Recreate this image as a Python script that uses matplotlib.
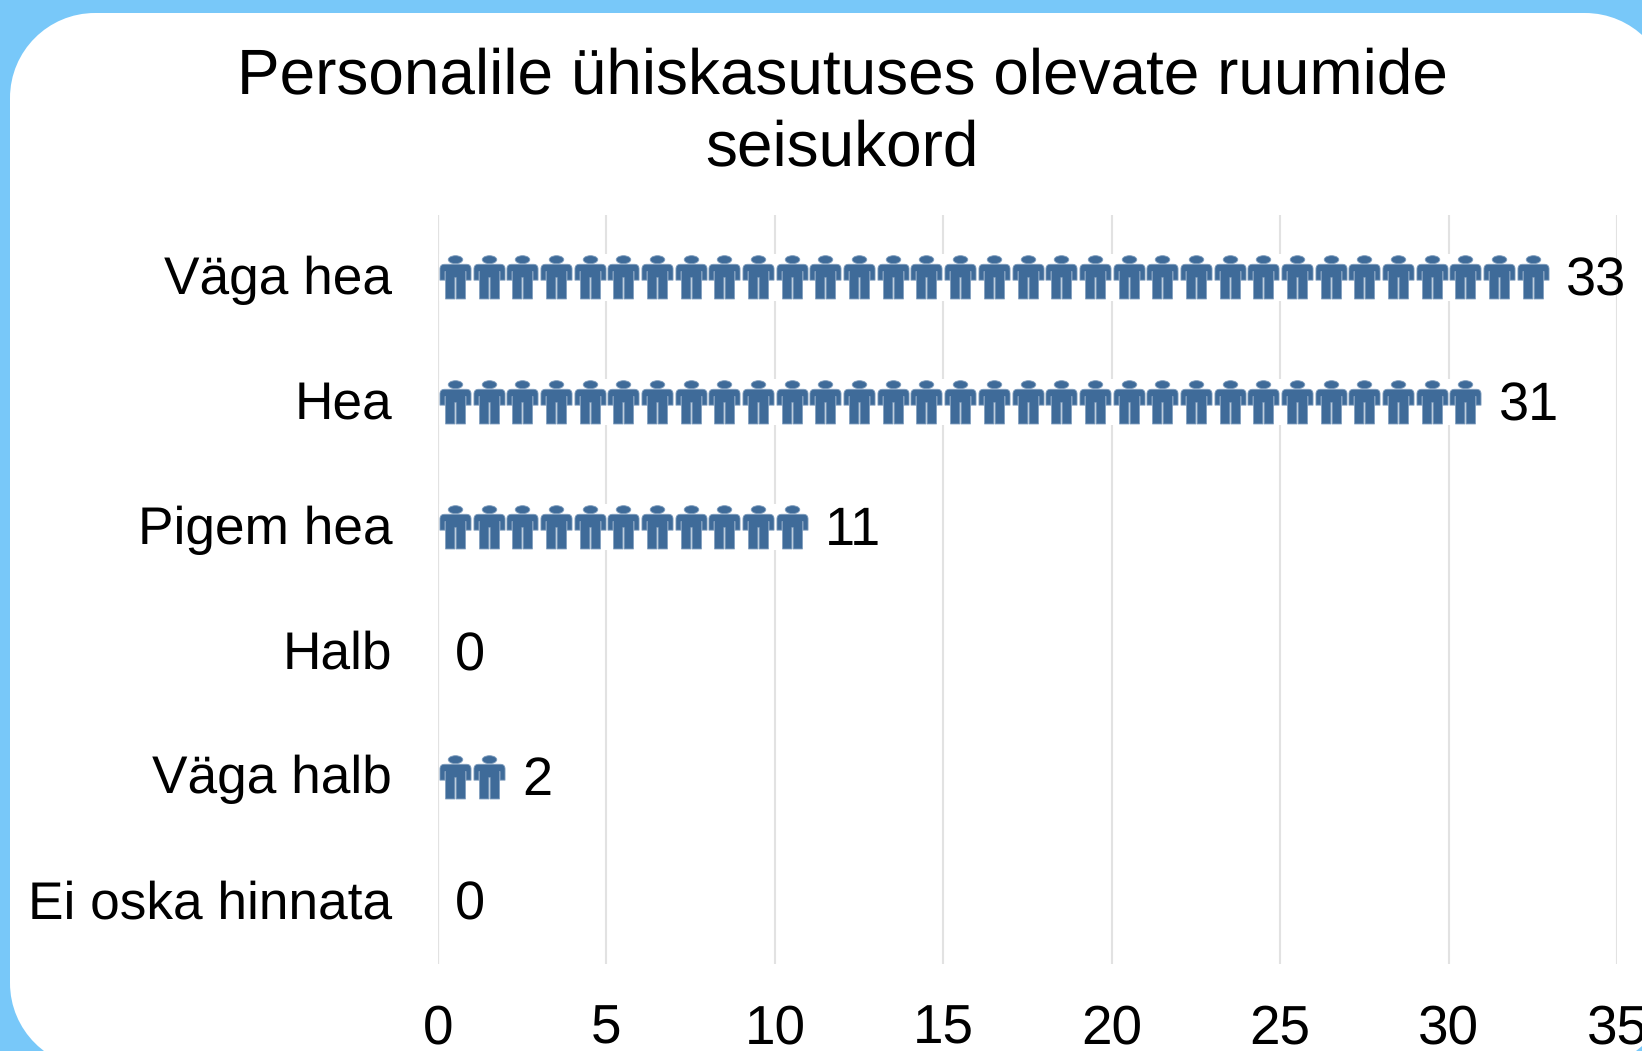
import matplotlib
matplotlib.use('Agg')
import matplotlib.pyplot as plt
from matplotlib.patches import PathPatch
from matplotlib.path import Path
from matplotlib.transforms import IdentityTransform, Affine2D, ScaledTranslation

plt.rcParams['font.family'] = ['Liberation Sans', 'DejaVu Sans']
plt.rcParams['text.hinting'] = 'none'

title = 'Personalile ühiskasutuses olevate ruumide\nseisukord'
categories = ['Väga hea', 'Hea', 'Pigem hea', 'Halb', 'Väga halb', 'Ei oska hinnata']
values = [33, 31, 11, 0, 2, 0]
xticks = [0, 5, 10, 15, 20, 25, 30, 35]

W, H = 1642, 1051
blue = '#3F6B99'

fig = plt.figure(figsize=(W / 100, H / 100), dpi=100, facecolor='#78C8F9')

# white rounded panel, runs past the right and bottom edges
l, r, b, t, rad = 10, 1670, -17, 1038, 85
k = rad * 0.448
panel_path = Path([(l + rad, b), (r - rad, b), (r - k, b), (r, b + k), (r, b + rad),
                   (r, t - rad), (r, t - k), (r - k, t), (r - rad, t),
                   (l + rad, t), (l + k, t), (l, t - k), (l, t - rad),
                   (l, b + rad), (l, b + k), (l + k, b), (l + rad, b)],
                  [Path.MOVETO, Path.LINETO, Path.CURVE4, Path.CURVE4, Path.CURVE4,
                   Path.LINETO, Path.CURVE4, Path.CURVE4, Path.CURVE4,
                   Path.LINETO, Path.CURVE4, Path.CURVE4, Path.CURVE4,
                   Path.LINETO, Path.CURVE4, Path.CURVE4, Path.CURVE4])
fig.add_artist(PathPatch(panel_path, fc='white', ec='none', transform=IdentityTransform(), zorder=-1))

ax = fig.add_axes([438 / W, 1 - 964 / H, 1179 / W, 749 / H])
ax.patch.set_alpha(0)
ax.set_xlim(0, 35)
ax.set_ylim(len(categories) - 0.5, -0.5)

# person glyph, drawn as a custom marker
head = Path.unit_circle().transformed(Affine2D().scale(22, 12).translate(0, 54))
body = Path([(-47, -8), (-47, 26), (-47, 40), (-33, 40), (33, 40), (47, 40), (47, 26), (47, -8),
             (32, -8), (32, 18), (30, 18), (30, -65), (2, -65), (2, 0), (-2, 0), (-2, -65),
             (-30, -65), (-30, 18), (-32, 18), (-32, -8), (-47, -8)],
            [Path.MOVETO, Path.LINETO, Path.CURVE3, Path.CURVE3, Path.LINETO, Path.CURVE3, Path.CURVE3] +
            [Path.LINETO] * 13 + [Path.CLOSEPOLY])
person = Path.make_compound_path(head, body)

ax.set_axisbelow(True)
ax.grid(axis='x', color='#E2E2E2', lw=1.5)
ax.barh(range(len(values)), values, height=0.37, color='white', zorder=2)
ax.axvline(0, color='#E2E2E2', lw=1.5, zorder=2.5)

for i, v in enumerate(values):
    xs = [n + 0.5 for n in range(v)]
    ax.plot(xs, [i] * v, ls='none', marker=person, ms=31.4, mfc=blue, mec='#7F9DBD', mew=0.6, zorder=3,
            clip_on=False)
    ax.annotate(str(v), (v, i), xytext=(12, -3), textcoords='offset points',
                ha='left', va='center', fontsize=39, color='#000000')

ax.set_yticks(range(len(categories)))
ax.set_yticklabels(categories, fontsize=38.3)
ax.set_xticks(xticks)
ax.tick_params(axis='x', length=0, labelsize=39.5, labelcolor='black', pad=57)
ax.tick_params(axis='y', length=0, labelsize=38.3, labelcolor='black', pad=33)
for lab in ax.get_xticklabels():
    lab.set_verticalalignment('baseline')
for lab in ax.get_yticklabels():
    lab.set_transform(lab.get_transform() + ScaledTranslation(0, 2 / 72, fig.dpi_scale_trans))
for s in ax.spines.values():
    s.set_visible(False)

fig.text(842 / W, 1 - 113.5 / H, title, ha='center', va='center', fontsize=46, color='black',
         linespacing=1.27)

fig.savefig('out.png', dpi=100, facecolor=fig.get_facecolor())
